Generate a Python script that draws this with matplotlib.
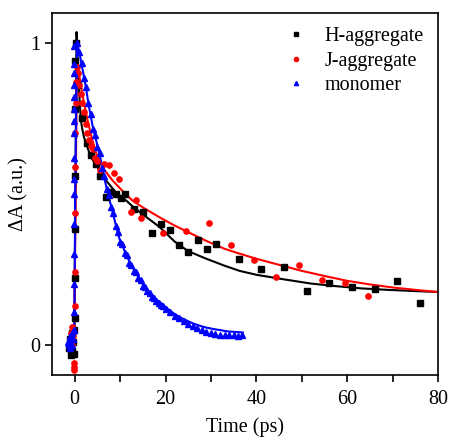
import matplotlib
matplotlib.use('agg')
import matplotlib.pyplot as plt
from matplotlib.ticker import MultipleLocator

# ---- data ----
# H-aggregate (black squares)
h_t = [-1.3, -1.0, -0.9, -0.7, -0.5, -0.4, -0.2, -0.1, 0.0, 0.0, 0.0, 0.05, 0.05, 0.1, 0.2,
       0.8, 1.7, 2.6, 3.6, 4.6, 5.6, 6.9, 8.0, 9.0, 10.2, 11.0, 13.0, 15.0, 17.0, 19.0, 21.0,
       23.0, 25.0, 27.1, 29.1, 31.1, 36.1, 41.1, 46.0, 51.1, 56.1, 61.1, 66.2, 71.0, 76.1]
h_a = [-0.01, 0.02, -0.035, -0.02, 0.04, 0.01, -0.03, 0.05, 0.09, 0.22, 0.385, 0.56, 0.78, 0.94, 1.0,
       0.86, 0.75, 0.67, 0.63, 0.60, 0.56, 0.49, 0.506, 0.50, 0.485, 0.50, 0.45, 0.44, 0.37, 0.40, 0.38,
       0.33, 0.307, 0.348, 0.318, 0.335, 0.285, 0.25, 0.257, 0.177, 0.204, 0.193, 0.186, 0.21, 0.138]
h_fit_t = [-1.5, -0.1, 0.15, 0.4, 0.7, 1.0, 1.2, 1.4, 1.6, 2.0, 2.5, 3.6, 4.8, 6.0, 7.7, 9.0,
           11.4, 13.0, 15.0, 18.7, 22.0, 25.0, 29.0, 33.0, 36.3, 40.0, 46.0, 52.0, 57.0, 63.0,
           69.0, 75.0, 80.0]
h_fit_a = [0.0, 0.0, 0.5, 1.036, 0.93, 0.83, 0.78, 0.74, 0.72, 0.69, 0.667, 0.62, 0.595, 0.56, 0.53, 0.505,
           0.477, 0.455, 0.432, 0.39, 0.342, 0.31, 0.285, 0.262, 0.245, 0.232, 0.217, 0.203, 0.195, 0.187,
           0.182, 0.178, 0.175]

# J-aggregate (red circles)
j_t = [-1.0, -0.8, -0.6, -0.5, -0.3, -0.2, -0.2, -0.15, 0.0, 0.0, 0.0, 0.0, 0.1, 0.2, 0.3, 0.5,
       0.7, 1.0, 1.3, 1.6, 2.0, 2.4, 2.8, 3.2, 3.6, 4.0, 4.5, 5.0, 5.5, 6.5, 7.6, 8.7, 9.7,
       12.4, 13.5, 14.6, 19.4, 24.5, 29.5, 34.4, 39.5, 44.4, 49.5, 54.5, 59.6, 64.6]
j_a = [0.02, 0.04, 0.0, 0.06, 0.03, -0.06, -0.075, -0.085, 0.13, 0.24, 0.435, 0.59, 0.70, 0.80, 0.87, 0.92,
       0.90, 0.86, 0.83, 0.80, 0.77, 0.73, 0.70, 0.68, 0.66, 0.65, 0.62, 0.61, 0.58, 0.60, 0.595, 0.57, 0.55,
       0.44, 0.48, 0.42, 0.37, 0.377, 0.405, 0.33, 0.28, 0.224, 0.266, 0.216, 0.204, 0.161]
j_fit_t = [-1.5, -0.1, 0.2, 0.5, 0.9, 1.4, 2.0, 2.5, 3.2, 3.9, 4.6, 5.4, 6.5, 8.3, 10.5, 12.7, 15.0,
           18.6, 22.0, 25.0, 29.0, 33.0, 36.3, 40.0, 45.0, 50.0, 55.0, 60.0, 65.0, 70.0, 75.0, 80.0]
j_fit_a = [0.0, 0.0, 0.5, 0.94, 0.90, 0.854, 0.805, 0.766, 0.72, 0.677, 0.64, 0.61, 0.58, 0.545, 0.51,
           0.478, 0.455, 0.423, 0.395, 0.373, 0.344, 0.318, 0.302, 0.285, 0.265, 0.245, 0.228, 0.212,
           0.20, 0.19, 0.182, 0.175]

# monomer (blue triangles)
m_t = [-1.5, -1.3, -1.1, -1.0, -0.8, -0.6, -0.5, -0.3, -0.2,
       -0.05, -0.05, -0.05, -0.05, -0.05, -0.05, -0.05, -0.05, -0.05, -0.05, -0.05, -0.05, -0.05,
       -0.05, -0.05, -0.05, 0.4,
       1.0, 1.5, 2.0, 2.5, 3.0, 3.5, 4.0, 4.5, 5.0, 5.5, 6.0, 6.5, 7.0, 7.5, 8.0, 8.5, 9.0, 9.5,
       10.0, 10.5, 11.0, 11.5, 12.0, 12.5, 13.0, 13.5, 14.0, 14.5, 15.0, 15.5, 16.0, 16.5, 17.0,
       17.5, 18.0, 18.5, 19.0, 19.5, 20.0, 21.0, 22.0, 23.0, 24.0, 25.0, 26.0, 27.0, 28.0, 29.0,
       30.0, 31.0, 32.0, 33.0, 34.0, 35.0, 36.0, 36.8]
m_a = [0.01, 0.0, 0.03, -0.01, 0.02, 0.04, 0.0, 0.02, 0.05,
       0.05, 0.11, 0.2, 0.3, 0.4, 0.5, 0.55, 0.62, 0.7, 0.74, 0.78, 0.82, 0.86, 0.9, 0.93, 0.99, 1.0,
       0.97, 0.935, 0.885, 0.855, 0.80, 0.765, 0.715, 0.695, 0.655, 0.635, 0.585, 0.56, 0.515, 0.495,
       0.455, 0.435, 0.395, 0.375, 0.34, 0.335, 0.305, 0.298, 0.272, 0.266, 0.245, 0.24, 0.22, 0.215,
       0.196, 0.19, 0.178, 0.171, 0.16, 0.156, 0.146, 0.14, 0.133, 0.128, 0.12, 0.108, 0.096, 0.088,
       0.078, 0.07, 0.062, 0.055, 0.048, 0.042, 0.038, 0.036, 0.033, 0.034, 0.031, 0.032, 0.03, 0.033]
m_fit_t = [-1.5, -0.1, 0.1, 0.5, 1.0, 1.5, 2.0, 2.5, 3.0, 3.5, 4.0, 4.5, 5.0, 5.5, 6.0, 6.5, 7.0,
           7.5, 8.0, 8.5, 9.0, 9.5, 10.0, 10.5, 11.0, 11.5, 12.0, 12.5, 13.0, 13.5, 14.0, 14.5,
           15.0, 16.0, 17.0, 18.0, 19.0, 20.0, 21.0, 22.0, 23.0, 24.0, 25.0, 26.0, 27.0, 28.0,
           29.0, 30.0, 31.0, 32.0, 33.0, 34.0, 35.0, 36.0, 37.0]
m_fit_a = [0.0, 0.0, 0.5, 1.0, 0.97, 0.93, 0.89, 0.85, 0.80, 0.76, 0.72, 0.69, 0.66, 0.63, 0.59,
           0.555, 0.52, 0.49, 0.46, 0.43, 0.40, 0.37, 0.344, 0.33, 0.31, 0.293, 0.278, 0.262, 0.25,
           0.237, 0.225, 0.212, 0.20, 0.182, 0.165, 0.15, 0.137, 0.125, 0.113, 0.102, 0.093, 0.085,
           0.078, 0.071, 0.066, 0.061, 0.057, 0.054, 0.051, 0.049, 0.046, 0.044, 0.043, 0.042, 0.041]

plt.rcParams['font.family'] = ['Liberation Serif', 'DejaVu Serif']

fig = plt.figure(figsize=(4.5, 4.38), dpi=100)
ax = fig.add_axes([0.1156, 0.1438, 0.8577, 0.8272])

ax.plot(h_fit_t, h_fit_a, color='black', lw=1.5, zorder=2)
ax.plot(j_fit_t, j_fit_a, color='red', lw=1.5, zorder=2)
ax.plot(m_fit_t, m_fit_a, color='blue', lw=1.5, zorder=2)

ax.plot(h_t, h_a, 's', color='black', ms=3.8, ls='none', label='H-aggregate', zorder=3)
ax.plot(j_t, j_a, 'o', color='red', ms=3.8, ls='none', label='J-aggregate', zorder=3)
ax.plot(m_t, m_a, '^', color='blue', ms=3.8, ls='none', label='monomer', zorder=3)

ax.set_xlim(-5, 80)
ax.set_ylim(-0.1, 1.1)
ax.xaxis.set_major_locator(MultipleLocator(20))
ax.xaxis.set_minor_locator(MultipleLocator(10))
ax.set_yticks([0, 1])
ax.tick_params(which='both', direction='out', length=5, width=1.2, labelsize=14.5)
ax.tick_params(axis='x', pad=6)
for s in ax.spines.values():
    s.set_linewidth(1.2)

ax.set_xlabel('Time (ps)', fontsize=14.5, labelpad=6)
ax.set_ylabel('ΔA (a.u.)', fontsize=14.5, labelpad=1)

leg = ax.legend(loc='upper right', bbox_to_anchor=(1.0, 1.0), frameon=False, fontsize=14.5,
                markerscale=0.8, handlelength=0.8, handletextpad=1.0, labelspacing=0.28,
                borderaxespad=0.3)

plt.savefig('out.png', dpi=100)
